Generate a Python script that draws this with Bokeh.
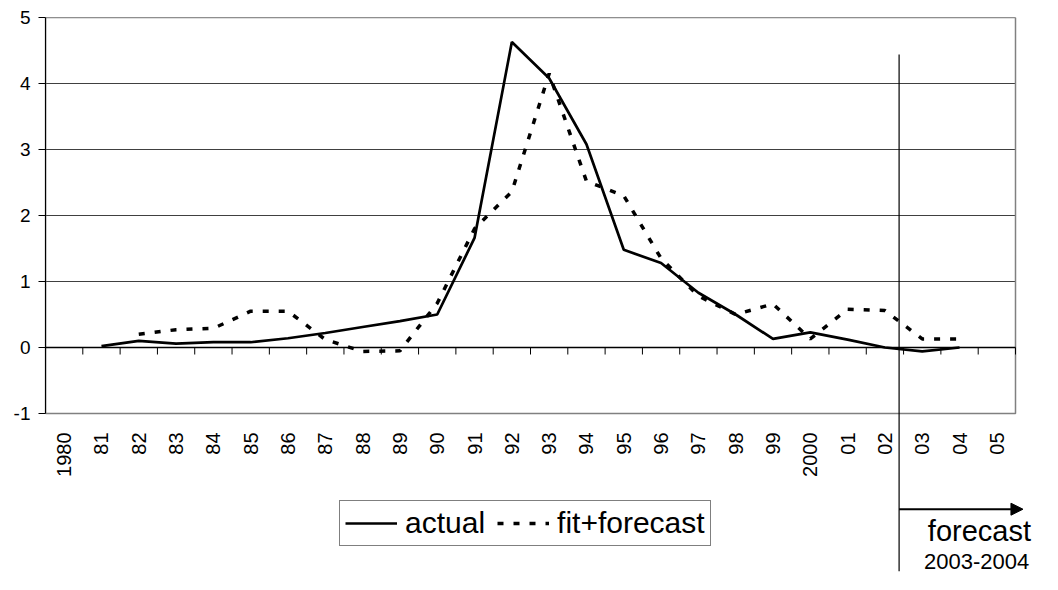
import math
from bokeh.plotting import figure
from bokeh.models import (Range1d, FixedTicker, Arrow, NormalHead, Label,
                          Legend, LegendItem)
from bokeh.core.properties import value
from bokeh.embed import file_html
from bokeh.resources import INLINE

# ---- data ----
years = ["1980", "81", "82", "83", "84", "85", "86", "87", "88", "89", "90",
         "91", "92", "93", "94", "95", "96", "97", "98", "99", "2000", "01",
         "02", "03", "04", "05"]

actual_years = ["81", "82", "83", "84", "85", "86", "87", "88", "89", "90",
                "91", "92", "93", "94", "95", "96", "97", "98", "99", "2000",
                "01", "02", "03", "04"]
actual = [0.02, 0.10, 0.06, 0.08, 0.08, 0.14, 0.22, 0.31, 0.40, 0.50,
          1.66, 4.63, 4.08, 3.08, 1.48, 1.28, 0.83, 0.50, 0.13, 0.23,
          0.12, 0.00, -0.06, 0.00]

fit_years = ["82", "83", "84", "85", "86", "87", "88", "89", "90", "91",
             "92", "93", "94", "95", "96", "97", "98", "99", "2000", "01",
             "02", "03", "04"]
fit = [0.20, 0.27, 0.29, 0.55, 0.55, 0.12, -0.06, -0.05, 0.67, 1.80,
       2.36, 4.15, 2.52, 2.30, 1.35, 0.78, 0.50, 0.66, 0.13, 0.58,
       0.56, 0.13, 0.13]

y_ticks = [-1, 0, 1, 2, 3, 4, 5]
y_tick_labels = ["-1", "0", "1", "2", "3", "4", "5"]
forecast_title = "forecast"
forecast_period = "2003-2004"

# ---- layout helpers ----
FONT = "Liberation Sans"
n = len(years)
pos = {y: i + 0.5 for i, y in enumerate(years)}
W, H = 1042, 574
LEFT, TOP = 45, 17
px_per_x = 970 / n          # plot area 970 px wide
px_per_y = 396 / 6          # plot area 396 px tall
x_max = (W - LEFT) / px_per_x
y_min = 5 - (H - TOP) / px_per_y

p = figure(width=W, height=H, x_range=Range1d(0, x_max), y_range=Range1d(y_min, 5),
           output_backend="svg", toolbar_location=None, x_axis_location=None,
           min_border_left=LEFT, min_border_top=TOP, min_border_right=0,
           min_border_bottom=0)
p.background_fill_color = "white"
p.border_fill_color = "white"
p.outline_line_color = None
p.xgrid.visible = False
p.ygrid.visible = False

# y axis
yax = p.yaxis[0]
yax.ticker = FixedTicker(ticks=y_ticks)
yax.bounds = (-1, 5)
yax.major_label_overrides = dict(zip(y_ticks, y_tick_labels))
yax.minor_tick_line_color = None
yax.major_tick_in = 0
yax.major_tick_out = 7
yax.axis_line_color = "black"
yax.axis_line_width = 1.2
yax.major_tick_line_color = "black"
yax.major_label_text_font = FONT
yax.major_label_text_font_size = "19px"
yax.major_label_text_color = "black"
yax.major_label_standoff = 8

# grid lines and plot-area box
p.segment(x0=[0] * len(y_ticks), y0=y_ticks, x1=[n] * len(y_ticks), y1=y_ticks,
          line_color="#404040", line_width=1)
p.quad(left=[0], right=[n], bottom=[-1], top=[5], fill_color=None,
       line_color="#808080", line_width=1.5)

# x-axis line crossing at zero, with category boundary ticks
p.segment(x0=[0], y0=[0], x1=[n], y1=[0], line_color="black", line_width=1.5)
bounds = list(range(1, n + 1))
p.segment(x0=bounds, y0=[0] * len(bounds), x1=bounds,
          y1=[-7 / px_per_y] * len(bounds), line_color="black", line_width=1)

# category labels below the plot area (rotated)
label_top = -1 - 19 / px_per_y
p.text(x=[pos[y] for y in years], y=[label_top] * n, text=years,
       angle=math.pi / 2, text_align="right", text_baseline="middle",
       text_font=value(FONT), text_font_size="20px", text_color="black")

# series
r_act = p.line([pos[y] for y in actual_years], actual, line_color="black", line_width=2.7)
r_fit = p.line([pos[y] for y in fit_years], fit, line_color="black", line_width=3.5,
               line_dash="6 10")

# forecast divider + arrow
xv = 22.88
p.segment(x0=[xv], y0=[4.44], x1=[xv], y1=[-3.39], line_color="black", line_width=1.2)
p.add_layout(Arrow(end=NormalHead(size=12, fill_color="black", line_color="black"),
                   x_start=xv, y_start=-2.45, x_end=26.2, y_end=-2.45,
                   line_color="black", line_width=2))
p.add_layout(Label(x=23.65, y=-3.03, text=forecast_title, text_font=FONT,
                   text_font_size="29px", text_color="black"))
p.add_layout(Label(x=23.55, y=-3.36, text=forecast_period, text_font=FONT,
                   text_font_size="22px", text_color="black"))

legend = Legend(items=[LegendItem(label="actual", renderers=[r_act]),
                       LegendItem(label="fit+forecast", renderers=[r_fit])],
                location=(294, 28), orientation="horizontal",
                label_text_font=FONT, label_text_font_size="30px",
                label_text_color="black",
                border_line_color="black", border_line_width=1,
                background_fill_alpha=1, glyph_width=52, glyph_height=30,
                label_height=30, padding=5, spacing=12, margin=0,
                label_standoff=8)
p.add_layout(legend, "center")

open("out.html", "w").write(file_html(p, INLINE))
